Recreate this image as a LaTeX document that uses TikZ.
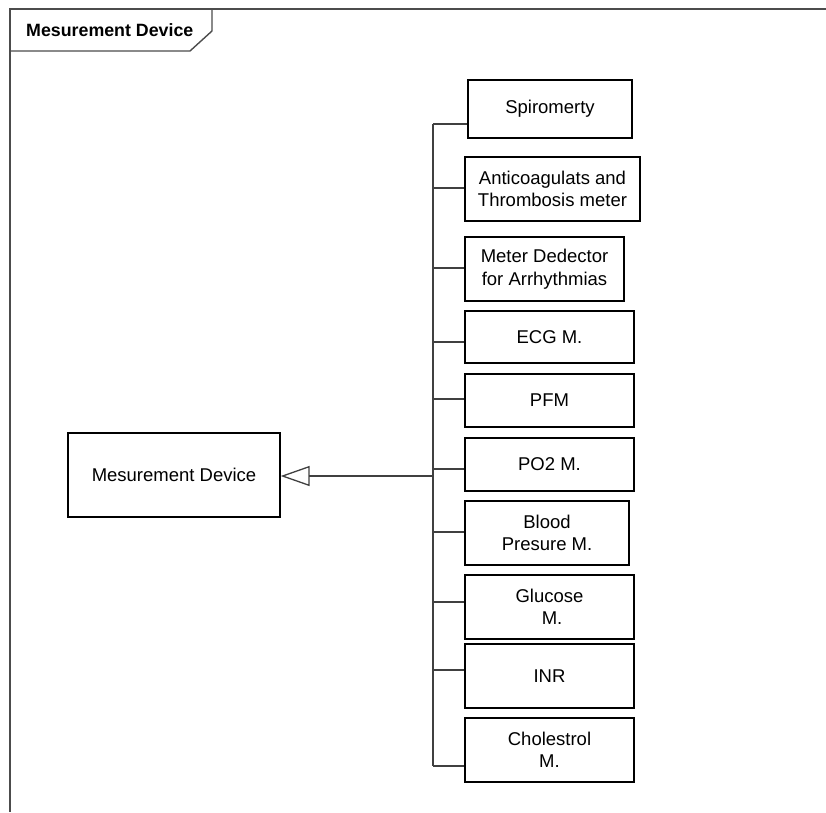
\documentclass[tikz,border=0pt]{standalone}
\usepackage{fontspec}
\setmainfont{Liberation Sans}
\usetikzlibrary{arrows.meta}
\tikzset{
  box/.style={draw=black, line width=1.3pt, rectangle, inner sep=0pt, align=center,
    font=\fontsize{18.5}{22.5}\selectfont},
  wire/.style={draw=black!75, line width=1.3pt},
  frameline/.style={draw=black!70, line width=1.4pt},
  inherit/.style={wire, -{Triangle[open, length=29pt, width=20pt, line width=1.3pt]}}
}
\begin{document}
\begin{tikzpicture}[x=1pt, y=-1pt]
\useasboundingbox (0,0) rectangle (826,812);

% package frame with its name tab
\draw[frameline] (826,9) -- (10,9) -- (10,812);
\draw[frameline] (212,9) -- (212,31) -- (190,51) -- (10,51);
\node[anchor=west, inner sep=0pt, font=\fontsize{17.8}{21}\selectfont\bfseries] (title) at (26,30) {Mesurement Device};

% parent class
\node[box, minimum width=212pt, minimum height=84pt] (M) at (174,475) {Mesurement Device};

% specialised devices
\node[box, minimum width=164pt, minimum height=58pt] (S)   at (550,109)   {Spiromerty};
\node[box, minimum width=175pt, minimum height=64pt] (A)   at (552.5,189) {Anticoagulats and\\Thrombosis meter};
\node[box, minimum width=159pt, minimum height=64pt] (Md)  at (544.5,269) {Meter Dedector\\for Arrhythmias};
\node[box, minimum width=169pt, minimum height=52pt] (E)   at (549.5,337) {ECG M.};
\node[box, minimum width=169pt, minimum height=53pt] (P)   at (549.5,400.5) {PFM};
\node[box, minimum width=169pt, minimum height=53pt] (O)   at (549.5,464.5) {PO2 M.};
\node[box, minimum width=164pt, minimum height=64pt] (B)   at (547,533)   {Blood\\Presure M.};
\node[box, minimum width=169pt, minimum height=64pt] (G)   at (549.5,607) {Glucose\\\ M.};
\node[box, minimum width=169pt, minimum height=64pt] (I)   at (549.5,676) {INR};
\node[box, minimum width=169pt, minimum height=64pt] (C)   at (549.5,750) {Cholestrol\\M.};

% junctions on the shared bus
\coordinate (jS) at (433,124);
\coordinate (jA) at (433,188);
\coordinate (jMd) at (433,268);
\coordinate (jE) at (433,342);
\coordinate (jP) at (433,399);
\coordinate (jO) at (433,469);
\coordinate (jB) at (433,532);
\coordinate (jG) at (433,602);
\coordinate (jI) at (433,670);
\coordinate (jC) at (433,766);
\coordinate (jM) at (433,476);

% bus and branches
\draw[wire] (jS) -- (jC);
\foreach \n in {S,A,Md,E,P,O,B,G,I,C}
  \draw[wire] (j\n) -- (j\n -| \n.west);

% generalisation arrow
\draw[inherit] (jM) -- (jM -| M.east);
\end{tikzpicture}
\end{document}
